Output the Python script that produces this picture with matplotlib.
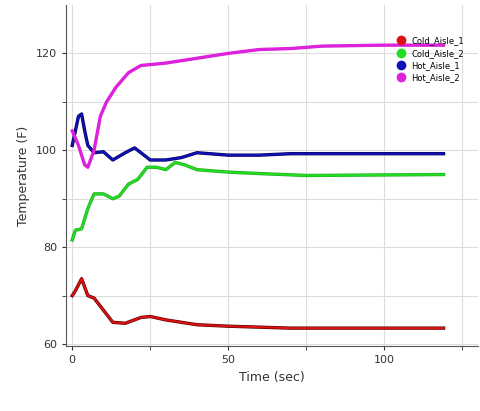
import matplotlib
matplotlib.use("Agg")
import matplotlib.pyplot as plt
import matplotlib.patheffects as pe

t_cold1 = [0, 1, 3, 5, 7, 10, 13, 17, 22, 25, 30, 40, 50, 60, 70, 119]
cold1 = [70, 71, 73.5, 70, 69.5, 67, 64.5, 64.3, 65.5, 65.7, 65, 64, 63.7, 63.5, 63.3, 63.3]
t_cold2 = [0, 1, 3, 5, 7, 10, 13, 15, 18, 21, 24, 27, 30, 33, 36, 40, 50, 60, 75, 119]
cold2 = [81.5, 83.5, 83.8, 88, 91, 91, 90, 90.5, 93, 94, 96.5, 96.5, 96, 97.5, 97, 96, 95.5, 95.2, 94.8, 95]
t_hot1 = [0, 1, 2, 3, 4, 5, 7, 10, 13, 17, 20, 22, 25, 30, 35, 40, 50, 60, 70, 119]
hot1 = [101, 104, 107, 107.5, 104, 101, 99.5, 99.7, 98, 99.5, 100.5, 99.5, 98, 98, 98.5, 99.5, 99, 99, 99.3, 99.3]
t_hot2 = [0, 2, 4, 5, 7, 9, 11, 14, 18, 22, 30, 40, 50, 60, 70, 80, 100, 119]
hot2 = [104, 101, 97, 96.5, 100, 107, 110, 113, 116, 117.5, 118, 119, 120, 120.8, 121, 121.5, 121.7, 121.7]

series = [("Cold_Aisle_1", t_cold1, cold1, "#dd1111", "#550000"),
          ("Cold_Aisle_2", t_cold2, cold2, "#22dd22", "#22aa22"),
          ("Hot_Aisle_1", t_hot1, hot1, "#1111bb", "#000055"),
          ("Hot_Aisle_2", t_hot2, hot2, "#dd22dd", "#dd22dd")]

fig = plt.figure(figsize=(4.8, 4.11), dpi=100)
ax = fig.add_axes([0.1375, 0.158, 0.858, 0.83])
for name, t, y, c, ec in series:
    ax.plot(t, y, color=c, lw=1.5, label=name,
            path_effects=[pe.Stroke(linewidth=2.4, foreground=ec), pe.Normal()])

ax.set_xlim(-2, 130)
ax.set_ylim(59.6, 130)
ax.set_xticks([0, 50, 100])
ax.set_yticks([60, 80, 100, 120])
ax.set_xticks([25, 75, 125], minor=True)
ax.set_yticks([70, 90, 110], minor=True)
ax.grid(True, which="both", color="#dddddd", lw=0.8)
ax.tick_params(labelsize=8, colors="#333333", which="both", length=3)
for s in ["top", "right"]:
    ax.spines[s].set_visible(False)
ax.spines["left"].set_color("#555555")
ax.spines["bottom"].set_color("#555555")
ax.set_xlabel("Time (sec)", fontsize=9, color="#333333")
ax.set_ylabel("Temperature (F)", fontsize=9, color="#333333")

handles = [plt.Line2D([], [], ls="", marker="o", ms=6, color=c) for _, _, _, c, _ in series]
ax.legend(handles, [s[0] for s in series], loc="upper right", bbox_to_anchor=(0.985, 0.93),
          fontsize=6, frameon=False, handletextpad=0.3, labelspacing=0.4)
fig.savefig("out.png", dpi=100)
